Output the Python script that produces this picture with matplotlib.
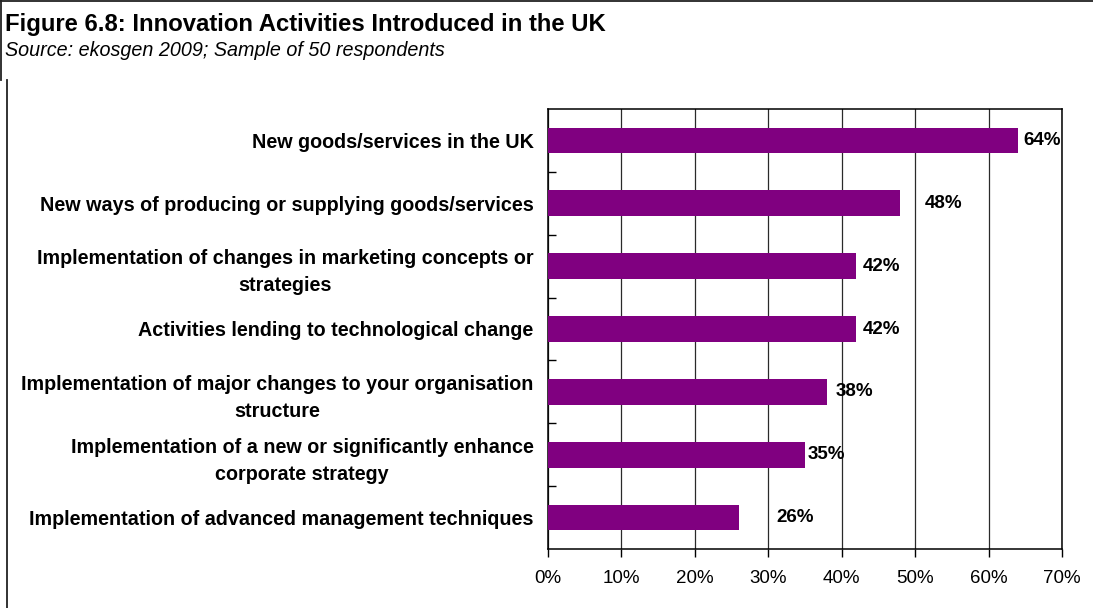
import matplotlib
matplotlib.use("Agg")
import matplotlib.pyplot as plt
from matplotlib.lines import Line2D
from matplotlib.ticker import FixedLocator, PercentFormatter

plt.rcParams['font.family'] = ['Liberation Sans', 'DejaVu Sans']

# Data
categories = [
    "New goods/services in the UK",
    "New ways of producing or supplying goods/services",
    "Implementation of changes in marketing concepts or\nstrategies",
    "Activities lending to technological change",
    "Implementation of major changes to your organisation\nstructure",
    "Implementation of a new or significantly enhance\ncorporate strategy",
    "Implementation of advanced management techniques",
]
values = [64, 48, 42, 42, 38, 35, 26]
value_labels = ["64%", "48%", "42%", "42%", "38%", "35%", "26%"]
x_ticks = [0, 10, 20, 30, 40, 50, 60, 70]

# Gap (pixels) between each bar end and its value label
label_gap_px = [5, 24, 6, 6, 9, 3, 37]

W, H = 1093, 608
fig = plt.figure(figsize=(W / 100, H / 100), dpi=100)
fig.patch.set_facecolor("white")

# Plot area in pixel coordinates
left, right, top, bottom = 548, 1062, 109, 549
ax = fig.add_axes([left / W, (H - bottom) / H, (right - left) / W, (bottom - top) / H])

ypos = list(range(len(categories)))
ax.barh(ypos, values, height=0.41, color="#800080", zorder=3)

ax.set_xlim(0, 70)
ax.set_ylim(len(categories) - 0.5, -0.5)

# Vertical gridlines
ax.xaxis.set_major_locator(FixedLocator(x_ticks))
ax.xaxis.set_major_formatter(PercentFormatter(decimals=0))
ax.grid(axis="x", color="#2a2a2a", linewidth=0.9, zorder=1)
ax.set_axisbelow(True)

ax.tick_params(axis="x", direction="out", length=6, width=1, color="black",
               labelsize=13.5, pad=9)

# Category labels at bar centres, ticks at category boundaries
ax.set_yticks(ypos)
ax.set_yticklabels(categories, fontsize=14.2, fontweight="bold",
                   multialignment="center", linespacing=1.55)
ax.tick_params(axis="y", which="major", length=0, pad=10.5)
ax.yaxis.set_minor_locator(FixedLocator([i + 0.5 for i in range(len(categories) - 1)]))
ax.tick_params(axis="y", which="minor", direction="in", length=6, width=1, color="black")

for sp in ax.spines.values():
    sp.set_color("black")
    sp.set_linewidth(1.1)

# Value labels
px_per_unit = (right - left) / 70.0
for y, v, lab, gap in zip(ypos, values, value_labels, label_gap_px):
    ax.text(v + gap / px_per_unit, y, lab, ha="left", va="center",
            fontsize=13.5, fontweight="bold", color="black", zorder=4)

# Title and source
fig.text(5 / W, 1 - 25 / H, "Figure 6.8: Innovation Activities Introduced in the UK",
         ha="left", va="center", fontsize=17.2, fontweight="bold")
fig.text(5 / W, 1 - 51 / H, "Source: ekosgen 2009; Sample of 50 respondents",
         ha="left", va="center", fontsize=14.2, style="italic")

# Frame lines
def fig_line(x0, y0, x1, y1):
    fig.add_artist(Line2D([x0 / W, x1 / W], [1 - y0 / H, 1 - y1 / H],
                          transform=fig.transFigure, color="#222222", linewidth=1.3))

fig_line(0, 0.8, W, 0.8)
fig_line(1, 0, 1, 80)
fig_line(7, 80, 7, H)

fig.savefig("out.png", dpi=100, facecolor="white")
